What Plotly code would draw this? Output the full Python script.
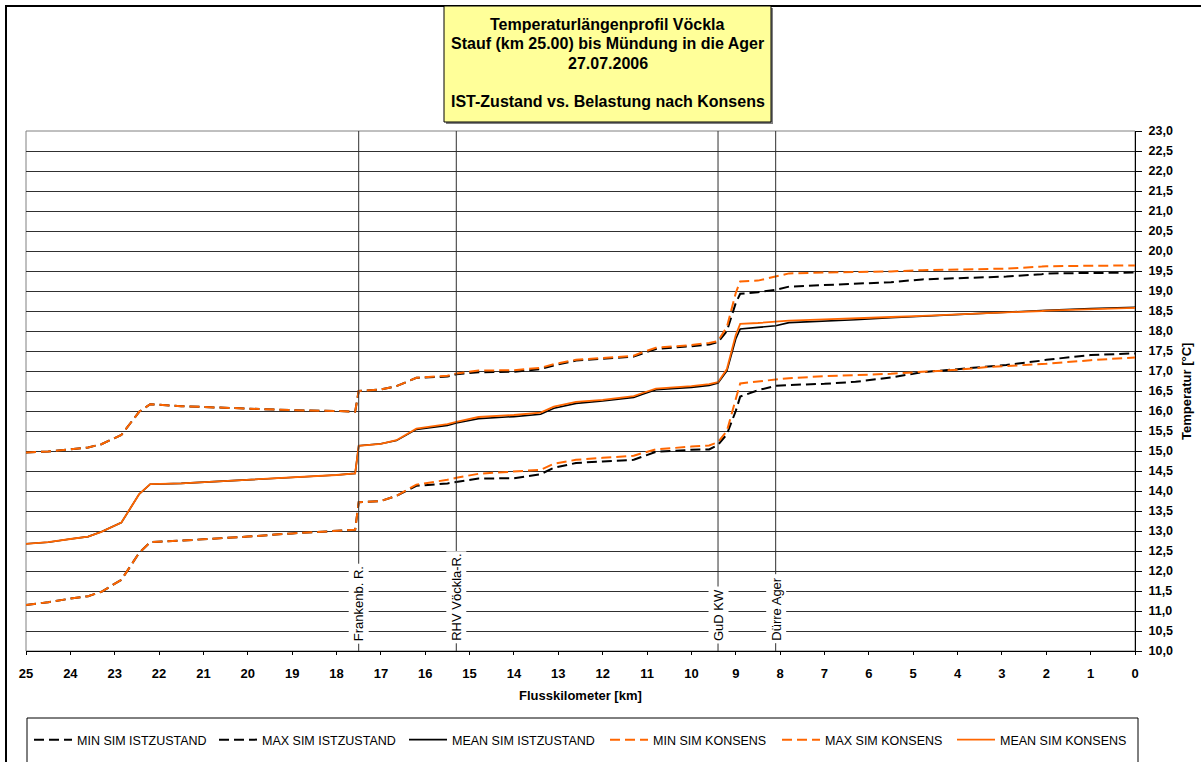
import plotly.graph_objects as go

# ---------------- data ----------------
km = [25.0, 24.5, 24.0, 23.6, 23.3, 22.85, 22.45, 22.2, 21.5, 21.0, 20.0, 19.0, 18.0,
      17.58, 17.5, 17.0, 16.65, 16.2, 15.5, 15.3, 14.8, 14.0, 13.4, 13.1, 12.6, 12.0,
      11.3, 11.1, 10.8, 10.0, 9.6, 9.4, 9.2, 9.0, 8.9, 8.5, 8.1, 7.8, 7.0, 6.3, 5.5,
      4.8, 4.0, 3.3, 2.9, 2.1, 2.0, 1.0, 0.0]

min_ist = [11.15, 11.22, 11.31, 11.37, 11.48, 11.78, 12.45, 12.72, 12.76, 12.79, 12.86, 12.94, 13.00,
           13.03, 13.72, 13.75, 13.88, 14.13, 14.19, 14.22, 14.31, 14.32, 14.42, 14.58, 14.70, 14.74,
           14.78, 14.86, 14.98, 15.03, 15.04, 15.15, 15.42, 16.00, 16.36, 16.52, 16.63, 16.65, 16.68,
           16.73, 16.84, 16.97, 17.04, 17.10, 17.15, 17.26, 17.28, 17.40, 17.44]
max_ist = [14.96, 14.99, 15.04, 15.09, 15.17, 15.40, 15.98, 16.17, 16.12, 16.10, 16.05, 16.02, 16.00,
           15.98, 16.50, 16.54, 16.62, 16.83, 16.86, 16.92, 16.97, 16.98, 17.05, 17.14, 17.26, 17.30,
           17.36, 17.44, 17.55, 17.62, 17.66, 17.72, 18.00, 18.70, 18.93, 18.97, 19.03, 19.11, 19.15,
           19.18, 19.22, 19.29, 19.32, 19.34, 19.36, 19.42, 19.44, 19.45, 19.46]
mean_ist = [12.68, 12.72, 12.80, 12.86, 12.98, 13.21, 13.92, 14.17, 14.19, 14.22, 14.27, 14.33, 14.40,
            14.44, 15.13, 15.18, 15.26, 15.54, 15.64, 15.70, 15.81, 15.86, 15.92, 16.07, 16.19, 16.25,
            16.34, 16.42, 16.53, 16.59, 16.64, 16.70, 17.00, 17.80, 18.05, 18.09, 18.13, 18.21, 18.24,
            18.28, 18.33, 18.37, 18.41, 18.44, 18.46, 18.51, 18.52, 18.56, 18.59]
min_kon = [11.15, 11.22, 11.31, 11.37, 11.48, 11.78, 12.45, 12.72, 12.76, 12.79, 12.86, 12.94, 13.00,
           13.03, 13.72, 13.75, 13.88, 14.16, 14.28, 14.33, 14.43, 14.49, 14.53, 14.68, 14.78, 14.83,
           14.88, 14.95, 15.04, 15.11, 15.14, 15.22, 15.50, 16.30, 16.69, 16.74, 16.79, 16.82, 16.87,
           16.90, 16.93, 16.98, 17.03, 17.10, 17.12, 17.17, 17.18, 17.27, 17.34]
max_kon = [14.96, 14.99, 15.04, 15.09, 15.17, 15.40, 15.98, 16.17, 16.12, 16.10, 16.05, 16.02, 16.00,
           15.98, 16.50, 16.54, 16.62, 16.83, 16.88, 16.94, 17.01, 17.02, 17.08, 17.17, 17.28, 17.32,
           17.38, 17.47, 17.58, 17.65, 17.70, 17.75, 18.10, 18.95, 19.24, 19.26, 19.37, 19.44, 19.46,
           19.47, 19.49, 19.52, 19.54, 19.55, 19.56, 19.61, 19.62, 19.63, 19.64]
mean_kon = [12.68, 12.72, 12.80, 12.86, 12.98, 13.21, 13.92, 14.17, 14.19, 14.22, 14.27, 14.33, 14.40,
            14.44, 15.13, 15.18, 15.27, 15.56, 15.67, 15.73, 15.85, 15.90, 15.96, 16.11, 16.23, 16.28,
            16.37, 16.45, 16.56, 16.62, 16.67, 16.72, 17.05, 17.90, 18.18, 18.20, 18.23, 18.26, 18.29,
            18.31, 18.35, 18.38, 18.41, 18.44, 18.46, 18.50, 18.51, 18.55, 18.58]

series_names = ["MIN SIM ISTZUSTAND", "MAX SIM ISTZUSTAND", "MEAN SIM ISTZUSTAND",
                "MIN SIM KONSENS", "MAX SIM KONSENS", "MEAN SIM KONSENS"]

marker_km = [17.5, 15.3, 9.4, 8.1]
marker_labels = ["Frankenb. R.", "RHV Vöckla-R.", "GuD KW", "Dürre Ager"]

x_ticks = list(range(25, -1, -1))
title_lines = ["Temperaturlängenprofil Vöckla",
               "Stauf (km 25.00) bis Mündung in die Ager",
               "27.07.2006",
               "IST-Zustand vs. Belastung nach Konsens"]
x_title = "Flusskilometer [km]"
y_title = "Temperatur [°C]"

# ---------------- figure ----------------
FONT = "Arial, 'Liberation Sans', sans-serif"
W, H = 1201, 762
L, R, T, B = 26, 1135, 131, 651          # plot area in pixels
pw, ph = R - L, B - T

def px(x):
    return (x - L) / pw

def py(y):
    return (B - y) / ph

BLACK = "#000000"
ORANGE = "#FF6600"
DASH = "10px,5px"

legend_ids = ["legend", "legend2", "legend3", "legend4", "legend5", "legend6"]
legend_left_px = [29, 214, 404, 605, 777, 952]

fig = go.Figure()
styles = [
    (min_ist, BLACK, DASH, 2),
    (max_ist, BLACK, DASH, 2),
    (mean_ist, BLACK, "solid", 1.6),
    (min_kon, ORANGE, DASH, 2),
    (max_kon, ORANGE, DASH, 2),
    (mean_kon, ORANGE, "solid", 1.8),
]
for name, (vals, col, dash, wdt), lid in zip(series_names, styles, legend_ids):
    fig.add_trace(go.Scatter(x=km, y=vals, mode="lines", name=name, legend=lid,
                             line=dict(color=col, dash=dash, width=wdt),
                             hoverinfo="x+y+name"))

shapes = []
# outer chart border
shapes.append(dict(type="rect", xref="paper", yref="paper",
                   x0=px(6), x1=px(1210), y0=py(775), y1=py(6),
                   line=dict(color="#000000", width=2), layer="below"))
# plot-area frame (grey)
shapes.append(dict(type="rect", xref="paper", yref="paper", x0=0, x1=1, y0=0, y1=1,
                   line=dict(color="#808080", width=1), layer="below"))
# marker lines
for k in marker_km:
    shapes.append(dict(type="line", xref="x", yref="paper", x0=k, x1=k, y0=0, y1=1,
                       line=dict(color="#303030", width=1), layer="above"))
# title box shadow and box
shapes.append(dict(type="rect", xref="paper", yref="paper",
                   x0=px(446), x1=px(773), y0=py(124), y1=py(8),
                   line=dict(width=0), fillcolor="#7f7f7f", layer="below"))
shapes.append(dict(type="rect", xref="paper", yref="paper",
                   x0=px(444), x1=px(771), y0=py(122), y1=py(6),
                   line=dict(color="#000000", width=1), fillcolor="#FFFF99", layer="below"))
# legend box
shapes.append(dict(type="rect", xref="paper", yref="paper",
                   x0=px(27), x1=px(1138), y0=py(775), y1=py(718),
                   line=dict(color="#000000", width=1), layer="below"))

annotations = []
title_y = [24, 44, 63, 101]
for line, yy in zip(title_lines, title_y):
    annotations.append(dict(text="<b>" + line + "</b>", xref="paper", yref="paper",
                            x=px(607.5), y=py(yy), xanchor="center", yanchor="middle",
                            showarrow=False, font=dict(family=FONT, size=16, color="#000000")))
for k, lab in zip(marker_km, marker_labels):
    annotations.append(dict(text=lab, x=k, y=10.0, xref="x", yref="y",
                            textangle=-90, xanchor="center", yanchor="bottom",
                            yshift=7, showarrow=False, bgcolor="#FFFFFF", borderpad=2,
                            font=dict(family=FONT, size=13, color="#000000")))
annotations.append(dict(text="<b>" + x_title + "</b>", xref="paper", yref="paper",
                        x=px(580.5), y=py(695), xanchor="center", yanchor="middle",
                        showarrow=False, font=dict(family=FONT, size=13, color="#000000")))
annotations.append(dict(text="<b>" + y_title + "</b>", xref="paper", yref="paper",
                        x=px(1186), y=py(392), xanchor="center", yanchor="middle",
                        textangle=-90, showarrow=False,
                        font=dict(family=FONT, size=13, color="#000000")))

legend_layout = {}
for lid, lx in zip(legend_ids, legend_left_px):
    legend_layout[lid] = dict(orientation="h", x=px(lx), y=py(740), xanchor="left",
                              yanchor="middle", bgcolor="rgba(0,0,0,0)", borderwidth=0,
                              font=dict(family=FONT, size=12.5, color="#000000"),
                              itemwidth=38)

fig.update_layout(
    width=W, height=H,
    margin=dict(l=L, r=W - R, t=T, b=H - B, pad=0, autoexpand=False),
    paper_bgcolor="#FFFFFF", plot_bgcolor="#FFFFFF",
    separators=",.",
    font=dict(family=FONT, size=12, color="#000000"),
    showlegend=True,
    shapes=shapes, annotations=annotations,
    xaxis=dict(range=[25, 0], tickmode="array", tickvals=x_ticks,
               ticktext=["<b>%d</b>" % v for v in x_ticks],
               showgrid=False, zeroline=False, showline=True, linecolor="#000000", linewidth=1,
               ticks="outside", ticklen=3, tickcolor="#000000", ticklabelstandoff=7,
               tickfont=dict(family=FONT, size=13, color="#000000")),
    yaxis=dict(range=[10, 23], side="right", dtick=0.5, tick0=10, tickformat=".1f",
               showgrid=True, gridcolor="#303030", gridwidth=1, zeroline=False,
               showline=True, linecolor="#000000", linewidth=1,
               ticks="outside", ticklen=6, tickcolor="#000000", ticklabelstandoff=4,
               tickfont=dict(family=FONT, size=12.5, color="#000000", weight="bold")),
    **legend_layout,
)

fig.write_html("out.html")
